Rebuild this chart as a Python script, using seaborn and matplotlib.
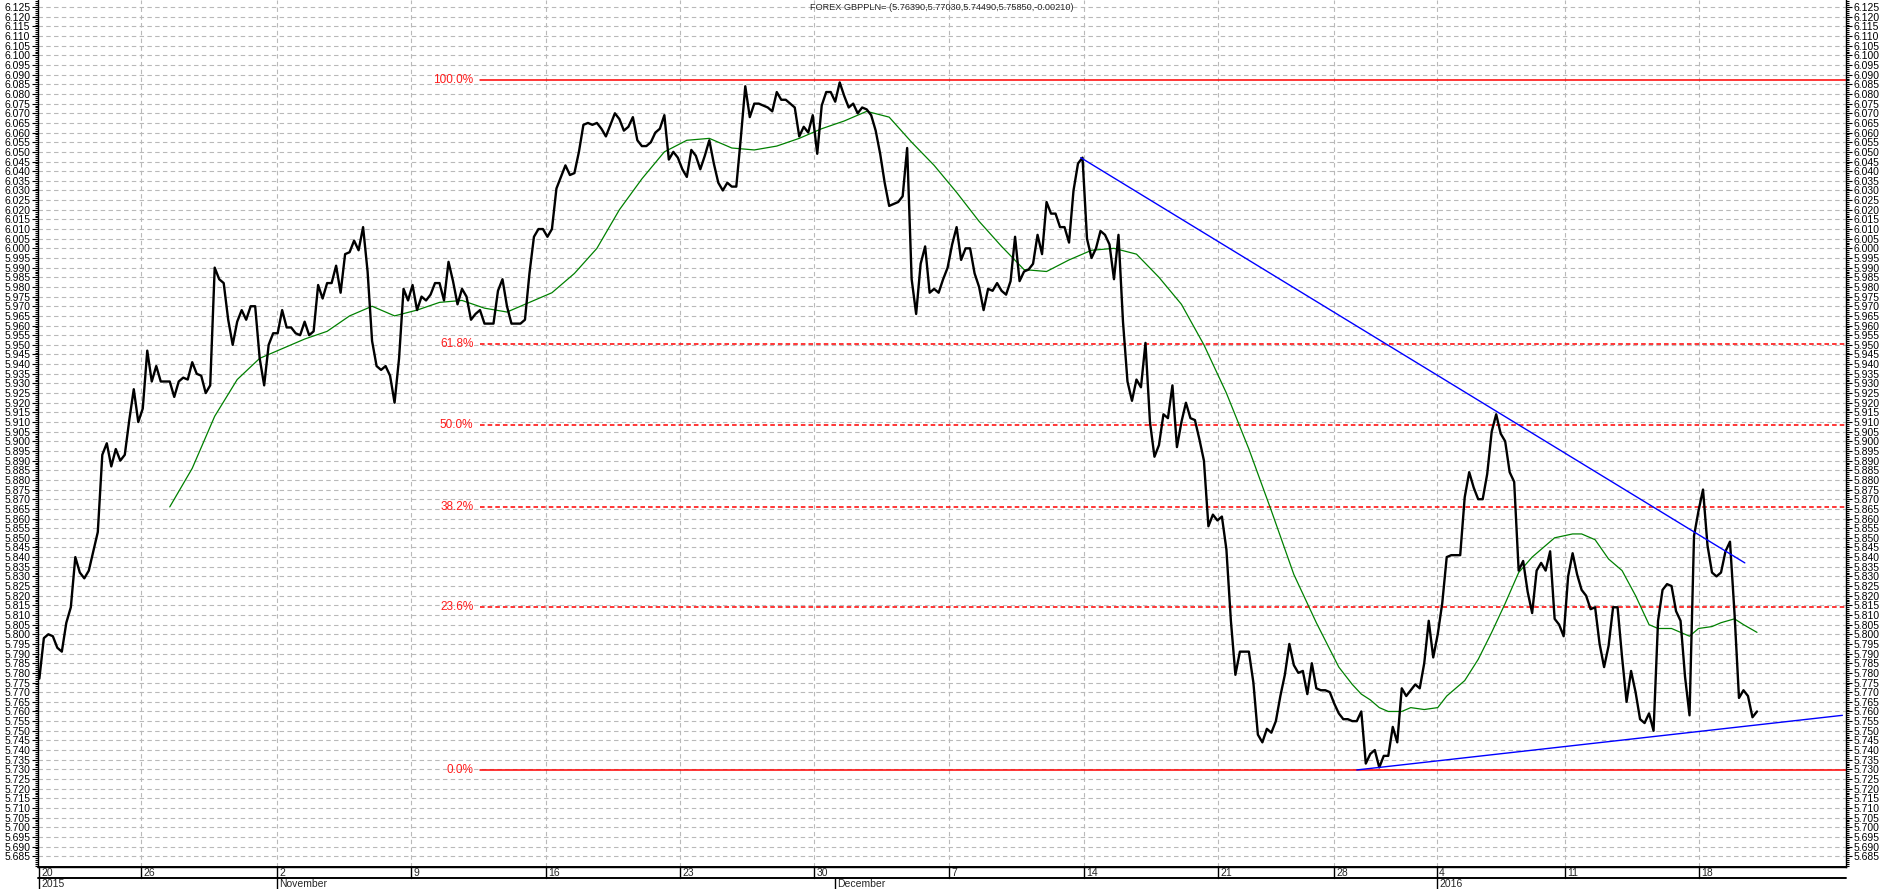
import matplotlib
matplotlib.use("Agg")
import matplotlib.pyplot as plt
from matplotlib.ticker import MultipleLocator, FixedLocator, FormatStrFormatter
import numpy as np
import seaborn as sns

# 4-hour closes, GBPPLN, 20 Oct 2015 - 21 Jan 2016
price = [
    5.777, 5.798, 5.800, 5.799, 5.793, 5.791, 5.806, 5.814, 5.840, 5.832,
    5.829, 5.833, 5.843, 5.853, 5.893, 5.899, 5.887, 5.896, 5.890, 5.893,
    5.911, 5.927, 5.910, 5.917, 5.947, 5.931, 5.939, 5.931, 5.931, 5.931,
    5.923, 5.931, 5.933, 5.932, 5.941, 5.935, 5.934, 5.925, 5.929, 5.990,
    5.984, 5.982, 5.963, 5.950, 5.962, 5.968, 5.963, 5.970, 5.970, 5.943,
    5.929, 5.950, 5.956, 5.956, 5.968, 5.959, 5.959, 5.956, 5.955, 5.962,
    5.955, 5.957, 5.981, 5.974, 5.982, 5.982, 5.991, 5.977, 5.997, 5.998,
    6.004, 5.999, 6.011, 5.988, 5.952, 5.939, 5.937, 5.939, 5.934, 5.920,
    5.943, 5.979, 5.973, 5.981, 5.968, 5.975, 5.973, 5.976, 5.982, 5.982,
    5.973, 5.993, 5.983, 5.971, 5.979, 5.975, 5.963, 5.966, 5.968, 5.961,
    5.961, 5.961, 5.978, 5.984, 5.970, 5.961, 5.961, 5.961, 5.963, 5.987,
    6.006, 6.010, 6.010, 6.006, 6.010, 6.031, 6.037, 6.043, 6.038, 6.039,
    6.050, 6.064, 6.065, 6.064, 6.065, 6.062, 6.058, 6.064, 6.070, 6.067,
    6.061, 6.063, 6.068, 6.056, 6.053, 6.053, 6.055, 6.060, 6.062, 6.069,
    6.046, 6.050, 6.047, 6.041, 6.037, 6.051, 6.048, 6.041, 6.048, 6.056,
    6.044, 6.034, 6.030, 6.034, 6.032, 6.032, 6.057, 6.084, 6.068, 6.075,
    6.075, 6.074, 6.073, 6.071, 6.081, 6.077, 6.077, 6.075, 6.073, 6.058,
    6.063, 6.060, 6.069, 6.049, 6.074, 6.081, 6.081, 6.076, 6.086, 6.079,
    6.073, 6.075, 6.070, 6.073, 6.072, 6.069, 6.061, 6.049, 6.034, 6.022,
    6.023, 6.024, 6.027, 6.052, 5.984, 5.966, 5.992, 6.001, 5.977, 5.979,
    5.977, 5.984, 5.990, 6.002, 6.011, 5.994, 6.000, 6.000, 5.987, 5.980,
    5.968, 5.979, 5.978, 5.982, 5.978, 5.976, 5.983, 6.006, 5.983, 5.988,
    5.989, 5.992, 6.007, 5.997, 6.024, 6.018, 6.018, 6.011, 6.011, 6.003,
    6.030, 6.044, 6.047, 6.005, 5.995, 6.000, 6.009, 6.007, 6.002, 5.984,
    6.007, 5.962, 5.931, 5.921, 5.932, 5.928, 5.951, 5.910, 5.892, 5.898,
    5.914, 5.912, 5.929, 5.897, 5.910, 5.920, 5.912, 5.911, 5.901, 5.890,
    5.856, 5.862, 5.859, 5.861, 5.844, 5.807, 5.779, 5.791, 5.791, 5.791,
    5.775, 5.748, 5.744, 5.751, 5.749, 5.755, 5.768, 5.779, 5.795, 5.784,
    5.780, 5.781, 5.769, 5.785, 5.772, 5.771, 5.771, 5.770, 5.764, 5.759,
    5.756, 5.756, 5.755, 5.755, 5.760, 5.733, 5.738, 5.740, 5.731, 5.737,
    5.737, 5.752, 5.744, 5.772, 5.768, 5.771, 5.774, 5.772, 5.785, 5.807,
    5.788, 5.800, 5.816, 5.840, 5.841, 5.841, 5.841, 5.871, 5.884, 5.876,
    5.870, 5.870, 5.883, 5.905, 5.914, 5.904, 5.900, 5.884, 5.879, 5.833,
    5.838, 5.822, 5.811, 5.833, 5.837, 5.833, 5.843, 5.808, 5.805, 5.799,
    5.830, 5.842, 5.831, 5.823, 5.820, 5.813, 5.814, 5.795, 5.783, 5.794,
    5.814, 5.814, 5.788, 5.765, 5.781, 5.770, 5.756, 5.754, 5.759, 5.750,
    5.807, 5.823, 5.826, 5.825, 5.812, 5.807, 5.778, 5.758, 5.851, 5.864,
    5.875, 5.846, 5.832, 5.830, 5.832, 5.843, 5.848, 5.811, 5.767, 5.771,
    5.768, 5.757, 5.760,
]
bars = np.arange(len(price))

# moving average (green)
ma_bar = [29, 34, 39, 44, 49, 54, 59, 64, 69, 74, 79, 84, 89, 94, 99, 104,
          109, 114, 119, 124, 129, 134, 139, 144, 149, 154, 159, 164, 169,
          174, 179, 184, 189, 194, 199, 204, 209, 214, 219, 224, 229, 234,
          239, 244, 249, 254, 259, 264, 269, 274, 279, 284, 289, 292, 294,
          296, 298, 300, 303, 305, 308, 311, 313, 317, 320, 323, 326, 329,
          332, 335, 337, 339, 341, 343, 346, 349, 352, 355, 358, 360, 363,
          365, 367, 369, 372, 374, 377, 379, 382]
ma_value = [5.866, 5.886, 5.913, 5.932, 5.943, 5.948, 5.953, 5.957, 5.965,
            5.970, 5.965, 5.968, 5.972, 5.973, 5.969, 5.967, 5.972, 5.977,
            5.987, 6.000, 6.020, 6.036, 6.050, 6.056, 6.057, 6.052, 6.051,
            6.053, 6.057, 6.062, 6.066, 6.071, 6.068, 6.055, 6.043, 6.029,
            6.014, 6.001, 5.989, 5.988, 5.994, 5.999, 6.000, 5.997, 5.985,
            5.971, 5.950, 5.925, 5.896, 5.864, 5.831, 5.806, 5.783, 5.774,
            5.769, 5.766, 5.762, 5.760, 5.760, 5.762, 5.761, 5.762, 5.768,
            5.776, 5.787, 5.801, 5.816, 5.832, 5.840, 5.846, 5.850, 5.851,
            5.852, 5.852, 5.849, 5.839, 5.833, 5.820, 5.805, 5.803, 5.803,
            5.801, 5.799, 5.803, 5.804, 5.806, 5.808, 5.805, 5.801]

# fibonacci retracement
fib_high = 6.087
fib_low = 5.7297
fib_start = 98
fib_ratios = [1.0, 0.618, 0.5, 0.382, 0.236, 0.0]
fib_labels = ["100.0%", "61.8%", "50.0%", "38.2%", "23.6%", "0.0%"]

# trend lines (bar, price)
trend_top = [(231.6, 6.047), (379.3, 5.837)]
trend_bottom = [(293.0, 5.7297), (401.0, 5.7580)]

# price scale labels
y_ticks = [round(5.685 + 0.005 * k, 3) for k in range(89)]

# date axis
day_pos = [0, 22.7, 52.8, 82.7, 112.7, 142.5, 172.3, 202.3, 232.3, 262.1,
           288.0, 310.8, 339.3, 369.1]
day_labels = ["20", "26", "2", "9", "16", "23", "30", "7", "14", "21", "28",
              "4", "11", "18"]
month_pos = [0, 52.8, 176.9, 310.8]
month_labels = ["2015", "November", "December", "2016"]

title = "FOREX GBPPLN= (5.76390,5.77030,5.74490,5.75850,-0.00210)"

sns.set_style("white")
plt.rcParams['font.family'] = ['Liberation Sans', 'DejaVu Sans']

W, H = 1883, 889
fig = plt.figure(figsize=(W / 100, H / 100), dpi=100)
x0, x1, yb = 38, 1846, 867
ax = fig.add_axes([x0 / W, (H - yb) / H, (x1 - x0) / W, yb / H])
xlim = (-0.3, 401.8)
ax.set_xlim(*xlim)
ax.set_ylim(5.6794, 6.1287)

grid_kw = dict(color="#b9b9b9", linewidth=0.8, linestyle=(0, (4, 3)), zorder=0)
for v in y_ticks:
    ax.axhline(v, **grid_kw)
for p in day_pos[1:]:
    ax.axvline(p, **grid_kw)

# fib levels
rng = fib_high - fib_low
for r, lab in zip(fib_ratios, fib_labels):
    lvl = fib_low + r * rng
    ls = "-" if r in (0.0, 1.0) else (0, (3, 2))
    ax.plot([fib_start, xlim[1]], [lvl, lvl], color="#ff0000", linewidth=1.1,
            linestyle=ls, zorder=2)
    ax.text(fib_start - 1.5, lvl, lab, color="#ff1a1a", fontsize=8.5,
            ha="right", va="center", zorder=3)

sns.lineplot(x=ma_bar, y=ma_value, ax=ax, color="#008000", linewidth=0.9,
             zorder=3)
sns.lineplot(x=bars, y=price, ax=ax, color="black", linewidth=1.7, zorder=4)

for seg in (trend_top, trend_bottom):
    ax.plot([seg[0][0], seg[1][0]], [seg[0][1], seg[1][1]], color="#0000ff",
            linewidth=1.0, zorder=5)

ax.yaxis.set_major_locator(FixedLocator(y_ticks))
ax.yaxis.set_minor_locator(MultipleLocator(0.001))
ax.yaxis.set_major_formatter(FormatStrFormatter("%.3f"))
ax.tick_params(axis="y", which="both", left=True, right=True,
               labelleft=True, labelright=True, labelsize=7.5, pad=1.5,
               colors="black", width=0.8)
ax.tick_params(axis="y", which="major", length=4)
ax.tick_params(axis="y", which="minor", length=2)
ax.set_xticks([])
ax.set_xlabel("")
ax.set_ylabel("")
for side in ("left", "right", "bottom"):
    ax.spines[side].set_color("black")
    ax.spines[side].set_linewidth(1.0)
ax.spines["top"].set_visible(False)

fig.text(942 / W, 1 - 7 / H, title, fontsize=6.6, ha="center", va="center")

# two-row date strip under the chart
axd = fig.add_axes([x0 / W, 0, (x1 - x0) / W, (H - yb) / H])
axd.set_xlim(*xlim)
axd.set_ylim(0, 2)
axd.axis("off")
axd.plot(xlim, [1, 1], color="black", linewidth=1.4, clip_on=False)
axd.plot(xlim, [2, 2], color="black", linewidth=1.4, clip_on=False)
for p, lab in zip(day_pos, day_labels):
    axd.plot([p, p], [1, 2], color="black", linewidth=1.0)
    axd.text(p + 0.5, 1.5, lab, fontsize=7.5, ha="left", va="center")
for p, lab in zip(month_pos, month_labels):
    axd.plot([p, p], [0, 1], color="black", linewidth=1.0)
    axd.text(p + 0.5, 0.45, lab, fontsize=7.5, ha="left", va="center")

fig.savefig("out.png", dpi=100)
